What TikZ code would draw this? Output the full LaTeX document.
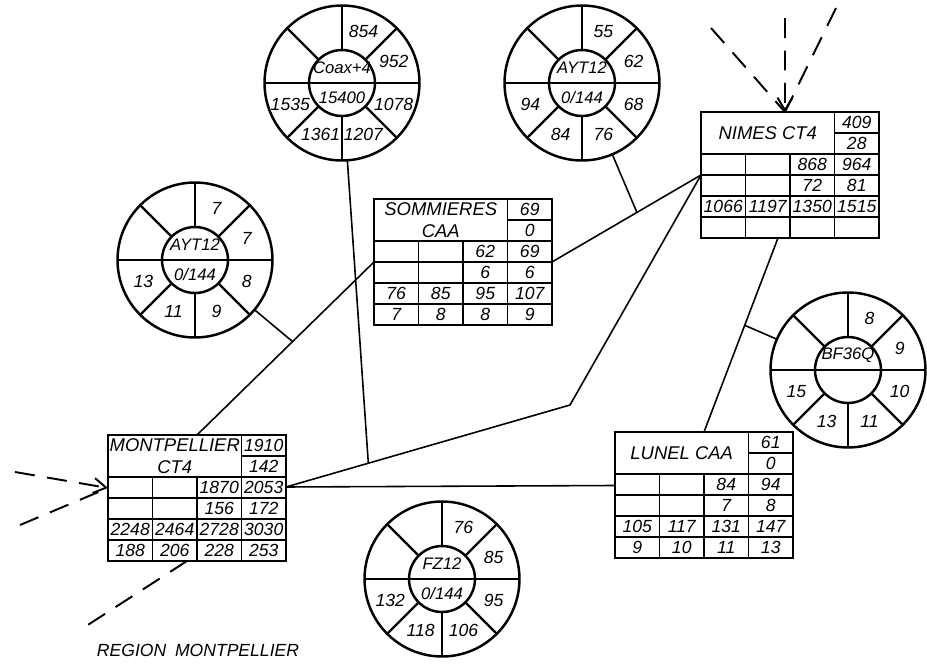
\documentclass[tikz,border=0pt]{standalone}
\usepackage{fontspec}
\setmainfont{Liberation Sans}
\usetikzlibrary{arrows.meta}

\tikzset{
  ring/.style={circle, draw, line width=1.4pt, inner sep=0pt, outer sep=0pt, minimum size=#1},
  val/.style={font=\fontsize{10}{11}\selectfont\itshape, inner sep=0pt},
  small/.style={font=\fontsize{9.5}{10}\selectfont\itshape, inner sep=0pt},
  title/.style={font=\fontsize{10.5}{12.5}\selectfont\itshape, align=center, inner sep=0pt},
  tbl/.style={draw, line width=1.4pt, inner sep=0pt, outer sep=0pt, minimum width=3.56cm, minimum height=2.52cm},
  link/.style={line width=0.9pt},
  feed/.style={line width=1.1pt, dash pattern=on 0.4cm off 0.25cm},
}

% ring: name, centre, upper text, lower text, six sector values
\newcommand{\ring}[5]{%
  \node[ring=3.1cm] (#1) at (#2) {};
  \node[ring=1.32cm] (#1-in) at (#2) {};
  \draw[line width=1.3pt] (#1.west) -- (#1.east);
  \foreach \a in {45,90,135,225,270,315}
    \draw[line width=1.3pt] (#1-in.\a) -- (#1.\a);
  \node[small] at ([yshift=0.3cm]#1.center) {#3};
  \node[small] at ([yshift=-0.3cm]#1.center) {#4};
  \foreach \v [count=\i] in {#5}
    \path (#1.center) ++({112.5-45*\i}:1.12cm) node[val] {\v};
}

% board: name, top left corner, title, two header values, rows
\newcommand{\board}[6]{%
  \node[tbl, anchor=north west] (#1) at (#2) {};
  \begin{scope}[shift={(#1.north west)}, line width=1.1pt]
    \draw (133.5,0) -- (133.5,126);
    \draw (44.5,42) -- (44.5,126) (89,42) -- (89,126);
    \draw (133.5,21) -- (178,21);
    \foreach \y in {42,63,84,105}
      \draw (0,\y) -- (178,\y);
    \node[title] at (66.75,21) {#3};
    \node[val] at (155.75,10.5) {#4};
    \node[val] at (155.75,31.5) {#5};
    \foreach \row [count=\j] in {#6}
      \foreach \v [count=\i] in \row
        \node[val] at ({44.5*\i-22.25},{21*\j+31.5}) {\v};
  \end{scope}
}

\begin{document}
\begin{tikzpicture}[x=0.02cm, y=-0.02cm]
  \useasboundingbox (0,0) rectangle (927,664);

  % stations
  \board{som}{374,199}{SOMMIERES\\CAA}{69}{0}{{,,62,69},{,,6,6},{76,85,95,107},{7,8,8,9}}
  \board{nim}{701,112}{NIMES CT4}{409}{28}{{,,868,964},{,,72,81},{1066,1197,1350,1515},{,,,}}
  \board{mtp}{108,435}{MONTPELLIER\\CT4}{1910}{142}{{,,1870,2053},{,,156,172},{2248,2464,2728,3030},{188,206,228,253}}
  \board{lun}{615,432}{LUNEL CAA}{61}{0}{{,,84,94},{,,7,8},{105,117,131,147},{9,10,11,13}}

  % links
  \ring{coax}{342,83}{Coax+4}{15400}{854,952,1078,1207,1361,1535}
  \ring{ayt}{582,83}{AYT12}{0/144}{55,62,68,76,84,94}
  \ring{ayl}{195,260}{AYT12}{0/144}{7,7,8,9,11,13}
  \ring{bfq}{848,370}{BF36Q}{}{8,9,10,11,13,15}
  \ring{fz}{442,579}{FZ12}{0/144}{76,85,95,106,118,132}

  % routes
  \coordinate (bend) at (570,405);
  \draw[link] ([yshift=0.22cm]mtp.east) -- ([yshift=0.19cm]lun.west);
  \draw[link] ([yshift=0.22cm]mtp.east) -- coordinate[pos=0.29] (j1) (bend) -- (nim.west);
  \draw[link] (coax) -- (j1);
  \draw[link] (mtp.north) -- coordinate[pos=0.54] (j2) (som.west);
  \draw[link] (ayl) -- (j2);
  \draw[link] (som.east) -- coordinate[pos=0.57] (j3) (nim.west);
  \draw[link] (ayt) -- (j3);
  \draw[link] ([xshift=-0.24cm]nim.south) -- coordinate[pos=0.45] (j4) (lun.north);
  \draw[link] (bfq) -- (j4);

  % incoming traffic
  \coordinate (n1) at (711,28);
  \coordinate (n2) at (785,18);
  \coordinate (n3) at (836,8);
  \draw[feed] (n1) -- ([xshift=-0.1cm]nim.north);
  \draw[feed, -{Straight Barb[length=2.5mm, width=3mm]}] (n2) -- ([xshift=-0.1cm]nim.north);
  \draw[feed] (n3) -- ([xshift=-0.1cm]nim.north);
  \coordinate (w1) at (15,472);
  \coordinate (w2) at (20,525);
  \draw[feed, -{Straight Barb[length=2.5mm, width=3mm]}] (w1) -- ([yshift=0.2cm]mtp.west);
  \draw[feed] (w2) -- ([yshift=0.2cm]mtp.west);
  \coordinate (s1) at (80,630);
  \draw[feed] ([xshift=-0.2cm]mtp.south) -- (s1);

  \node[title, font=\fontsize{10}{12}\selectfont\itshape] (region) at (198,650) {REGION\enspace MONTPELLIER};
\end{tikzpicture}
\end{document}
